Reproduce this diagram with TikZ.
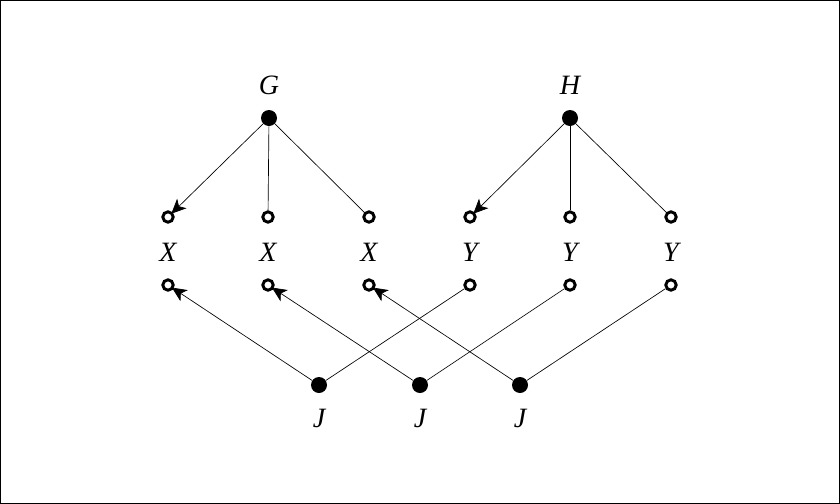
\documentclass[tikz,border=0pt]{standalone}
\usepackage{fontspec}
\setmainfont{Liberation Serif}
\usepackage{tikz}
\usetikzlibrary{arrows.meta}

\tikzset{
 full/.style={circle,fill=black,inner sep=0pt,minimum size=12pt},
 open/.style={circle,draw=black,line width=2.2pt,fill=white,inner sep=0pt,minimum size=7.8pt},
 lab/.style={font=\fontsize{21}{25}\selectfont\itshape},
 edge/.style={line width=0.5pt},
 arr/.style={line width=0.5pt,shorten >=-1.5pt,-{Stealth[length=11pt,width=10pt,inset=3pt]}}
}

\begin{document}
\begin{tikzpicture}[x=0.75pt,y=-0.75pt]
 \draw[line width=0.75pt] (0.5,0.5) rectangle (839.5,503.5);
 \useasboundingbox (0,0) rectangle (840,504);
%
 \node[full] (g) at (269,118) {};
 \node[full] (h) at (570,118) {};
 \node[lab] (gl) at (269,85) {G};
 \node[lab] (hl) at (570,85) {H};
%
 \node[open] (xt1) at (168,217) {};
 \node[open] (xt2) at (268,217) {};
 \node[open] (xt3) at (369,217) {};
 \node[open] (yt1) at (470,217) {};
 \node[open] (yt2) at (570,217) {};
 \node[open] (yt3) at (671,217) {};
 \node[lab] (xl1) at (168,252) {X};
 \node[lab] (xl2) at (268,252) {X};
 \node[lab] (xl3) at (369,252) {X};
 \node[lab] (yl1) at (470,252) {Y};
 \node[lab] (yl2) at (570,252) {Y};
 \node[lab] (yl3) at (671,252) {Y};
 \node[open] (xb1) at (168,285) {};
 \node[open] (xb2) at (268,285) {};
 \node[open] (xb3) at (369,285) {};
 \node[open] (yb1) at (470,285) {};
 \node[open] (yb2) at (570,285) {};
 \node[open] (yb3) at (671,285) {};
%
 \node[full] (j1) at (319,385) {};
 \node[full] (j2) at (420,385) {};
 \node[full] (j3) at (520,385) {};
 \node[lab] (jl1) at (319,418) {J};
 \node[lab] (jl2) at (420,418) {J};
 \node[lab] (jl3) at (520,418) {J};
%
 \draw[arr] (g) -- (xt1);
 \draw[edge] (g) -- (xt2);
 \draw[edge] (g) -- (xt3);
 \draw[arr] (h) -- (yt1);
 \draw[edge] (h) -- (yt2);
 \draw[edge] (h) -- (yt3);
%
 \draw[arr] (j1) -- (xb1);
 \draw[edge] (j1) -- (yb1);
 \draw[arr] (j2) -- (xb2);
 \draw[edge] (j2) -- (yb2);
 \draw[arr] (j3) -- (xb3);
 \draw[edge] (j3) -- (yb3);
\end{tikzpicture}
\end{document}
